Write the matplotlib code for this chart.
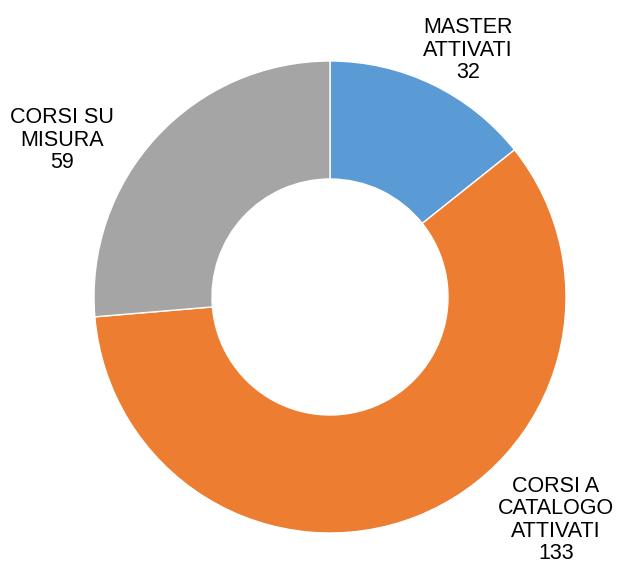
import matplotlib
matplotlib.use("Agg")
import matplotlib.pyplot as plt

categories = ["MASTER\nATTIVATI", "CORSI A\nCATALOGO\nATTIVATI", "CORSI SU\nMISURA"]
values = [32, 133, 59]
colors = ["#5B9BD5", "#ED7D31", "#A5A5A5"]

W, H = 618, 564
fig = plt.figure(figsize=(W / 100, H / 100), dpi=100)
ax = fig.add_axes([0, 0, 1, 1])
ax.set_xlim(0, W)
ax.set_ylim(0, H)
ax.axis("off")

cx, cy, R = 330, H - 297, 236
ax.pie(values, colors=colors, startangle=90, counterclock=False,
       center=(cx, cy), radius=R,
       wedgeprops=dict(width=R * 0.5, edgecolor="white", linewidth=1))
ax.set_xlim(0, W)
ax.set_ylim(0, H)
ax.set_aspect("auto")

label_pos = [(468, H - 50), (556, H - 520), (62, H - 140)]
for cat, v, (x, y) in zip(categories, values, label_pos):
    ax.text(x, y, f"{cat}\n{v}", ha="center", va="center", fontsize=15.5,
            family="Liberation Sans", color="black", linespacing=1.08)

fig.savefig("out.png", dpi=100)
